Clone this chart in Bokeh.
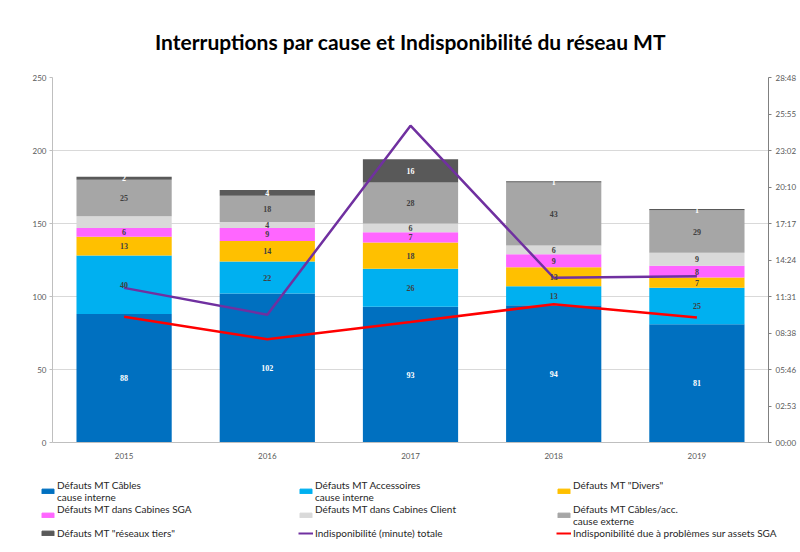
from bokeh.plotting import figure
from bokeh.models import (Range1d, LinearAxis, FixedTicker, ColumnDataSource,
                          LabelSet, Legend, LegendItem, Title)
from bokeh.embed import file_html
from bokeh.resources import INLINE

# ---------------- data ----------------
years = ["2015", "2016", "2017", "2018", "2019"]
cables_interne = [88, 102, 93, 94, 81]
accessoires_interne = [40, 22, 26, 13, 25]
divers = [13, 14, 18, 13, 7]
cabines_sga = [6, 9, 7, 9, 8]
cabines_client = [8, 4, 6, 6, 9]
cables_acc_externe = [25, 18, 28, 43, 29]
reseaux_tiers = [2, 4, 16, 1, 1]
# unavailability in seconds (axis shows mm:ss)
indispo_totale_s = [732, 605, 1500, 780, 787]
indispo_sga_s = [595, 489, 570, 655, 592]
right_tick_labels = ["00:00", "02:53", "05:46", "08:38", "11:31", "14:24",
                     "17:17", "20:10", "23:02", "25:55", "28:48"]
right_max = 1728
left_ticks = [0, 50, 100, 150, 200, 250]

NB = "\n\u00a0"  # keeps single-line labels top-aligned with two-line ones
series_names = ["Défauts MT Câbles\ncause interne",
                "Défauts MT Accessoires\ncause interne",
                "Défauts MT \"Divers\"" + NB,
                "Défauts MT dans Cabines SGA" + NB,
                "Défauts MT dans Cabines Client" + NB,
                "Défauts MT Câbles/acc.\ncause externe",
                "Défauts MT \"réseaux tiers\""]
line_names = ["Indisponibilité (minute) totale",
              "Indisponibilité due à problèmes sur assets SGA"]
series = [cables_interne, accessoires_interne, divers, cabines_sga,
          cabines_client, cables_acc_externe, reseaux_tiers]
colors = ["#0070C0", "#00B0F0", "#FFC000", "#FF66FF", "#D9D9D9", "#A6A6A6", "#595959"]
label_colors = ["#FFFFFF", "#404040", "#404040", "#404040", "#404040", "#404040", "#FFFFFF"]
line_colors = ["#7030A0", "#FF0000"]
hidden_labels = {("2015", 4)}

FONT = "Lato"

keys = [f"s{i}" for i in range(len(series))]
data = {"years": years}
for k, s in zip(keys, series):
    data[k] = s
src = ColumnDataSource(data)

p = figure(x_range=years, y_range=Range1d(0, 250), frame_width=716, frame_height=365,
           output_backend="svg", toolbar_location=None,
           min_border_left=52, min_border_right=0, min_border_top=77,
           min_border_bottom=24)
# spacer between frame and title (pushes the title up)
p.add_layout(Title(text="\u00a0", text_font_size="6px", text_font=FONT), "above")
p.title.text = "Interruptions par cause et Indisponibilité du réseau MT"
p.title.align = "center"
p.title.text_font = FONT
p.title.text_font_size = "21px"
p.title.text_font_style = "bold"
p.title.text_color = "#000000"

p.extra_y_ranges = {"t": Range1d(0, right_max)}

bars = p.vbar_stack(keys, x="years", width=0.665, color=colors, source=src,
                    line_color=None)

# value labels
lx, ly, lt, lc = [], [], [], []
for j, yr in enumerate(years):
    base = 0
    for i, s in enumerate(series):
        v = s[j]
        if (yr, i) not in hidden_labels:
            lx.append(yr)
            ly.append(base + v / 2)
            lt.append(str(v))
            lc.append(label_colors[i])
        base += v
lsrc = ColumnDataSource(dict(x=lx, y=ly, t=lt, c=lc))
p.add_layout(LabelSet(x="x", y="y", text="t", text_color="c", source=lsrc,
                      text_align="center", text_baseline="middle",
                      text_font=FONT, text_font_size="8px", text_font_style="bold"))

p.line(years, indispo_totale_s, y_range_name="t", line_color=line_colors[0], line_width=2.5)
p.line(years, indispo_sga_s, y_range_name="t", line_color=line_colors[1], line_width=2.5)

# axes
axis_color = "#BFBFBF"
lab_color = "#595959"
ya = p.yaxis[0]
ya.ticker = FixedTicker(ticks=left_ticks)
ya.axis_line_color = axis_color
ya.major_tick_line_color = axis_color
ya.major_tick_out = 3
ya.major_tick_in = 0
ya.minor_tick_line_color = None
ya.major_label_text_font = FONT
ya.major_label_text_font_size = "8px"
ya.major_label_text_color = lab_color
ya.major_label_standoff = 3

xa = p.xaxis[0]
xa.axis_line_color = axis_color
xa.major_tick_line_color = None
xa.major_label_text_font = FONT
xa.major_label_text_font_size = "8px"
xa.major_label_text_color = lab_color
xa.major_label_standoff = 4

rticks = [round(i * right_max / 10, 1) for i in range(11)]
ra = LinearAxis(y_range_name="t", ticker=FixedTicker(ticks=rticks),
                major_label_overrides={t: l for t, l in zip(rticks, right_tick_labels)})
ra.axis_line_color = "#808080"
ra.major_tick_line_color = "#808080"
ra.major_tick_out = 3
ra.major_tick_in = 0
ra.minor_tick_line_color = None
ra.major_label_text_font = FONT
ra.major_label_text_font_size = "8px"
ra.major_label_text_color = lab_color
ra.major_label_standoff = 4
p.add_layout(ra, "right")

p.xgrid.grid_line_color = None
p.ygrid.grid_line_color = "#D9D9D9"
p.ygrid.ticker = FixedTicker(ticks=left_ticks)
p.outline_line_color = None

# ---------------- legend panel ----------------
lp = figure(width=800, height=82, output_backend="svg", toolbar_location=None,
            x_range=Range1d(0, 1), y_range=Range1d(0, 1),
            x_axis_location=None, y_axis_location=None,
            min_border_left=0, min_border_right=0, min_border_top=0, min_border_bottom=0)
lp.xgrid.grid_line_color = None
lp.ygrid.grid_line_color = None
lp.outline_line_color = None

nan = float("nan")
legend_renderers = [lp.vbar(x=[nan], top=[nan], width=1, color=c) for c in colors]
legend_lines = [lp.line(x=[nan, nan], y=[nan, nan], line_color=c, line_width=2)
                for c in line_colors]

items = [LegendItem(label=n, renderers=[r]) for n, r in zip(series_names, legend_renderers)]
items.insert(7, LegendItem(label=line_names[0], renderers=[legend_lines[0]]))
items.append(LegendItem(label=line_names[1], renderers=[legend_lines[1]]))
leg = Legend(items=items, ncols=3, orientation="horizontal", location=(40, 9),
             label_text_font=FONT, label_text_font_size="10px", label_text_color="#262626",
             label_text_line_height=1.35,
             glyph_width=15, glyph_height=6, label_width=241, spacing=0,
             label_standoff=2, padding=0, margin=0, border_line_color=None,
             background_fill_alpha=0, label_height=12)
lp.add_layout(leg)

open("out.html", "w").write(file_html([p, lp], INLINE))
